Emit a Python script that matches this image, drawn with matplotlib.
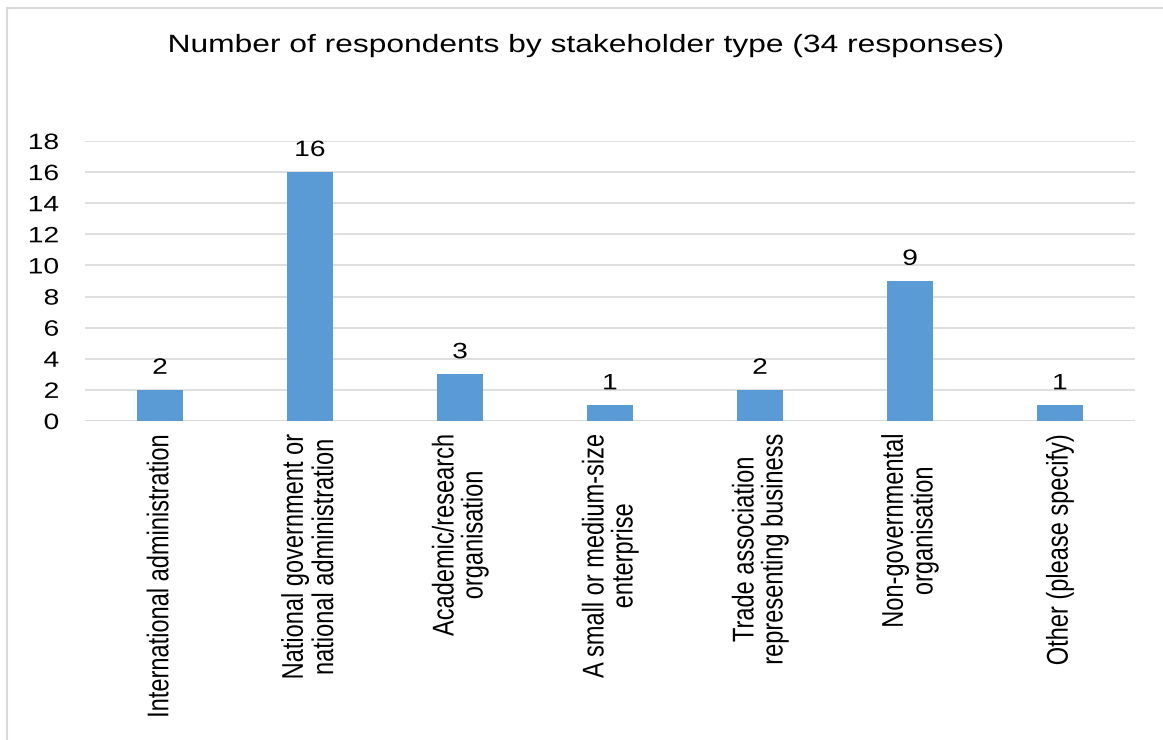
import matplotlib.pyplot as plt
from matplotlib.lines import Line2D
from matplotlib.patheffects import AbstractPathEffect
from matplotlib.transforms import Affine2D

plt.rcParams['font.family'] = ['Liberation Sans', 'DejaVu Sans']

categories = [
    "International administration",
    "National government or\nnational administration",
    "Academic/research\norganisation",
    "A small or medium-size\nenterprise",
    "Trade association\nrepresenting business",
    "Non-governmental\norganisation",
    "Other (please specify)",
]
counts = [2, 16, 3, 1, 2, 9, 1]
yticks = [0, 2, 4, 6, 8, 10, 12, 14, 16, 18]

# the source picture is a bit wider than tall, so the text looks stretched sideways
SX = 1.27


class XStretch(AbstractPathEffect):
    def __init__(self, sx, anchor='center'):
        super().__init__()
        self.sx = sx
        self.anchor = anchor

    def draw_path(self, renderer, gc, tpath, affine, rgbFace=None):
        ext = tpath.get_extents(affine)
        cx = ext.x1 if self.anchor == 'right' else (ext.x0 + ext.x1) / 2
        aff = affine + Affine2D().translate(-cx, 0).scale(self.sx, 1).translate(cx, 0)
        renderer.draw_path(gc, tpath, aff, rgbFace)


fig = plt.figure(figsize=(11.63, 7.40), dpi=100)
W, H = 1163, 740
ax = fig.add_axes([85 / W, 1 - 421 / H, (1135 - 85) / W, (421 - 141) / H])

bars = ax.bar(range(len(categories)), counts, width=0.31, color='#5B9BD5', zorder=3)
for b, v in zip(bars, counts):
    ax.annotate(str(v), (b.get_x() + b.get_width() / 2, v), xytext=(0, 8),
                textcoords='offset points', ha='center', va='bottom',
                fontsize=16, color='#000000', path_effects=[XStretch(SX)])

ax.set_xlim(-0.5, len(categories) - 0.5)
ax.set_ylim(0, 18)
ax.set_yticks(yticks)
ax.set_yticklabels([str(t) for t in yticks], fontsize=16)
ax.set_xticks(range(len(categories)))
ax.set_xticklabels(categories, rotation=90, fontsize=17, linespacing=1.45)
ax.tick_params(axis='x', length=0, pad=9)
ax.tick_params(axis='y', length=0, pad=18.7)
for lbl in ax.get_yticklabels():
    lbl.set_path_effects([XStretch(SX, 'right')])
for lbl in ax.get_xticklabels():
    lbl.set_path_effects([XStretch(SX)])
ax.yaxis.grid(True, color='#D9D9D9', linewidth=1.2, zorder=0)
for s in ax.spines.values():
    s.set_visible(False)
ax.axhline(0, color='#D9D9D9', linewidth=1.2, zorder=2)

fig.text(586 / W, 1 - 45 / H, "Number of respondents by stakeholder type (34 responses)",
         ha='center', va='center', fontsize=18, path_effects=[XStretch(SX)])

# outer chart border (left and top edges visible)
fig.add_artist(Line2D([7 / W, 7 / W], [0, 1 - 8 / H], transform=fig.transFigure,
                      color='#D9D9D9', linewidth=1.5))
fig.add_artist(Line2D([7 / W, 1], [1 - 8 / H, 1 - 8 / H], transform=fig.transFigure,
                      color='#D9D9D9', linewidth=1.5))

fig.savefig('out.png', dpi=100)
